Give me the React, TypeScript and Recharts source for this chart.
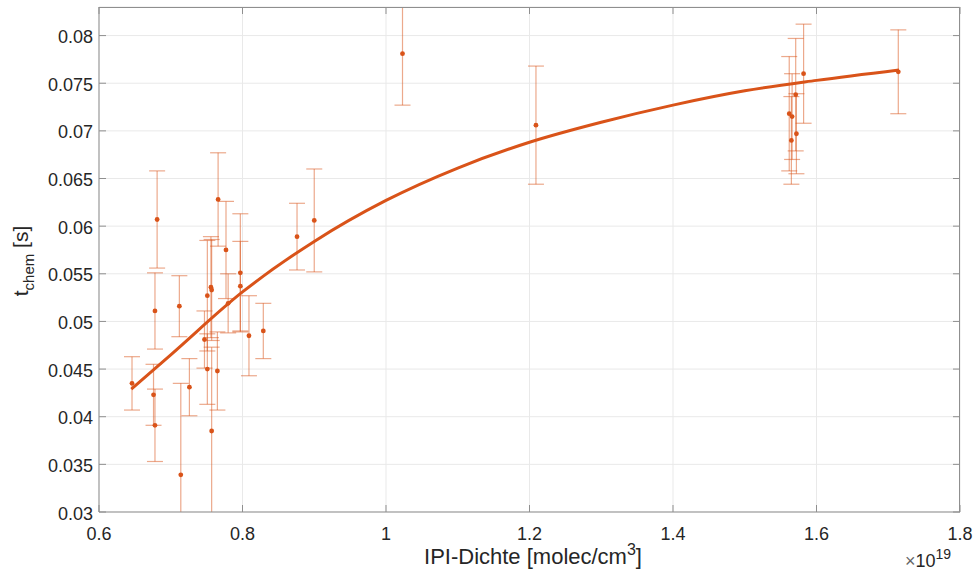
import React from 'react';
import { ComposedChart, Scatter, Line, XAxis, YAxis, CartesianGrid, ErrorBar } from 'recharts';

// IPI density (x 10^19 molec/cm^3), chemical time t_chem [s], error
const densX = [0.646, 0.676, 0.678, 0.678, 0.681, 0.712, 0.714, 0.726, 0.747, 0.751, 0.751, 0.756, 0.757, 0.757, 0.765, 0.766, 0.777, 0.780, 0.797, 0.797, 0.809, 0.829, 0.876, 0.900, 1.023, 1.209, 1.562, 1.565, 1.566, 1.571, 1.572, 1.582, 1.714];
const tChem = [0.0435, 0.0423, 0.0391, 0.0511, 0.0607, 0.0516, 0.0339, 0.0431, 0.0481, 0.0527, 0.0450, 0.0536, 0.0533, 0.0385, 0.0448, 0.0628, 0.0575, 0.0519, 0.0551, 0.0537, 0.0485, 0.0490, 0.0589, 0.0606, 0.0781, 0.0706, 0.0718, 0.0690, 0.0715, 0.0738, 0.0697, 0.0760, 0.0762];
const tErr = [0.0028, 0.0032, 0.0038, 0.0040, 0.0051, 0.0032, 0.0096, 0.0030, 0.0030, 0.0058, 0.0037, 0.0053, 0.0053, 0.0088, 0.0041, 0.0049, 0.0051, 0.0031, 0.0062, 0.0047, 0.0042, 0.0029, 0.0035, 0.0054, 0.0054, 0.0062, 0.0060, 0.0046, 0.0045, 0.0059, 0.0042, 0.0052, 0.0044];

// fitted curve
const fitX = [0.645, 0.7, 0.8, 0.9, 1.0, 1.1, 1.2, 1.3, 1.4, 1.5, 1.6, 1.715];
const fitY = [0.0429, 0.0465, 0.0531, 0.0584, 0.0627, 0.0661, 0.0688, 0.0709, 0.0727, 0.0742, 0.0753, 0.0764];

const xTicks = [0.6, 0.8, 1, 1.2, 1.4, 1.6, 1.8];
const yTicks = [0.03, 0.035, 0.04, 0.045, 0.05, 0.055, 0.06, 0.065, 0.07, 0.075, 0.08];
const X_DOM = [0.6, 1.8];
const Y_DOM = [0.03, 0.083];

const ORANGE = '#D95319';
const AXIS = '#8f8f8f';
const FONT = '"Liberation Sans", Arial, Helvetica, sans-serif';

// plot box (matches chart margins / axis sizes below)
const PL = 99, PR = 960, PT = 7, PB = 512;
const sx = (v: number) => PL + ((v - X_DOM[0]) / (X_DOM[1] - X_DOM[0])) * (PR - PL);
const sy = (v: number) => PB - ((v - Y_DOM[0]) / (Y_DOM[1] - Y_DOM[0])) * (PB - PT);

const points = densX.map((x, i) => ({ x, y: tChem[i], err: tErr[i] }));
const fit = fitX.map((x, i) => ({ x, y: fitY[i] }));

const BottomTick = (p: any) => (
  <g>
    <line x1={p.x} y1={p.y} x2={p.x} y2={p.y - 7} stroke={AXIS} />
    <text x={p.x} y={p.y + 28} textAnchor="middle" fontSize={18} fill="#262626" fontFamily={FONT}>
      {String(p.payload.value)}
    </text>
  </g>
);
const LeftTick = (p: any) => (
  <g>
    <line x1={p.x} y1={p.y} x2={p.x + 7} y2={p.y} stroke={AXIS} />
    <text x={p.x - 6} y={p.y + 7.5} textAnchor="end" fontSize={18} fill="#262626" fontFamily={FONT}>
      {String(p.payload.value)}
    </text>
  </g>
);

const Dot = (p: any) => <circle cx={p.cx} cy={p.cy} r={2.4} fill={ORANGE} />;

export default function App() {
  return (
    <div style={{ position: 'absolute', left: 0, top: 0, width: 973, height: 576, background: '#fff' }}>
      <style>{`.recharts-errorBars, .recharts-errorBar { clip-path: url(#plotclip); }`}</style>
      <svg width={0} height={0} style={{ position: 'absolute' }}>
        <defs>
          <clipPath id="plotclip" clipPathUnits="userSpaceOnUse">
            <rect x={PL} y={PT} width={PR - PL} height={PB - PT} />
          </clipPath>
        </defs>
      </svg>
      <div style={{ position: 'absolute', left: PL, top: PT, width: PR - PL - 1, height: PB - PT - 1, borderTop: `1px solid ${AXIS}`, borderRight: `1px solid ${AXIS}` }} />
      <ComposedChart width={973} height={576} margin={{ top: PT, right: 973 - PR, left: 0, bottom: 0 }}>
        <CartesianGrid stroke="#e9e9e9" />
        <XAxis dataKey="x" type="number" domain={X_DOM} ticks={xTicks} interval={0}
          allowDataOverflow height={576 - PB} tickSize={0} tickMargin={0} tickLine={false}
          axisLine={{ stroke: AXIS }} tick={BottomTick} />
        <YAxis dataKey="y" type="number" domain={Y_DOM} ticks={yTicks} interval={0}
          allowDataOverflow width={PL} tickSize={0} tickMargin={0} tickLine={false}
          axisLine={{ stroke: AXIS }} tick={LeftTick} />
        <Scatter data={points} dataKey="y" shape={Dot} isAnimationActive={false}>
          <ErrorBar dataKey="err" direction="y" width={8} stroke={ORANGE} strokeOpacity={0.5} strokeWidth={1.2} isAnimationActive={false} />
        </Scatter>
        <Line data={fit} dataKey="y" type="monotone" stroke={ORANGE} strokeWidth={3}
          dot={false} activeDot={false} isAnimationActive={false} />
      </ComposedChart>
      <svg width={973} height={576} style={{ position: 'absolute', left: 0, top: 0, pointerEvents: 'none' }}>
        <path d={`M${PL} ${PT + 0.5} H${PR - 0.5} V${PB}`} fill="none" stroke="#8f8f8f" strokeWidth={1} />
        {xTicks.map((t) => (
          <path key={'tx' + t} d={`M${sx(t)} ${PT} V${PT + 7}`} stroke="#8f8f8f" />
        ))}
        {yTicks.map((t) => (
          <path key={'ty' + t} d={`M${PR} ${sy(t)} H${PR - 7}`} stroke="#8f8f8f" />
        ))}
        <text x={533} y={564} textAnchor="middle" fontSize={22} fill="#262626" fontFamily={FONT}>
          IPI-Dichte [molec/cm<tspan dy={-9} fontSize={16}>3</tspan><tspan dy={9}>]</tspan>
        </text>
        <text x={905} y={567} fontSize={18} fill="#262626" fontFamily={FONT}>
          <tspan fill="#666">×</tspan>10<tspan dy={-8} fontSize={14}>19</tspan>
        </text>
        <text transform="translate(28,261) rotate(-90)" textAnchor="middle" fontSize={21} fill="#262626" fontFamily={FONT}>
          t<tspan dy={6} fontSize={15}>chem</tspan><tspan dy={-6}> [s]</tspan>
        </text>
      </svg>
    </div>
  );
}
